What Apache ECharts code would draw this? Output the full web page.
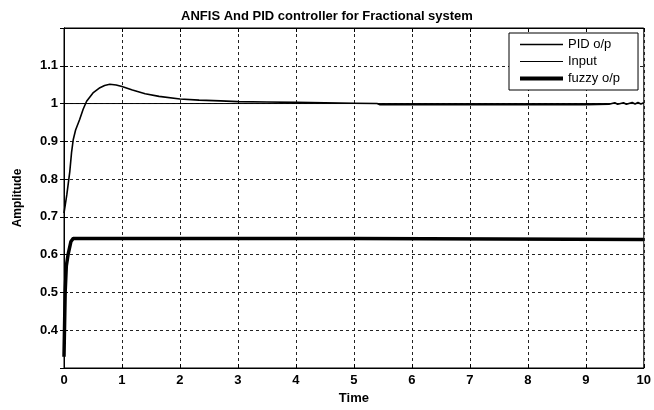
<!DOCTYPE html>
<html>
<head>
<meta charset="utf-8">
<script src="https://cdn.jsdelivr.net/npm/echarts@6/dist/echarts.min.js"></script>
<style>html,body{margin:0;padding:0;background:#fff}#c{width:654px;height:410px}</style>
</head>
<body>
<div id="c"></div>
<script>
var titleText = 'ANFIS And PID controller for Fractional system';
var xTicks = [0,1,2,3,4,5,6,7,8,9,10];
var yTicks = [0.4,0.5,0.6,0.7,0.8,0.9,1,1.1];

var pidT = [0,0.02,0.05,0.1,0.13,0.16,0.2,0.27,0.33,0.39,0.5,0.62,0.7,0.79,0.9,1.0,1.18,1.4,1.64,2.0,2.33,2.7,3.0,3.5,4.0,4.5,5.0,5.4,5.45,6,7,8,9,9.4,9.5,9.55,9.65,9.7,9.8,9.85,9.9,9.95,10];
var pidV = [0.71,0.73,0.76,0.82,0.87,0.905,0.93,0.958,0.985,1.006,1.028,1.042,1.048,1.051,1.049,1.045,1.036,1.026,1.019,1.012,1.009,1.007,1.005,1.004,1.003,1.002,1.001,1.0,0.997,0.997,0.997,0.997,0.997,0.998,1.002,0.998,1.002,0.998,1.003,0.999,1.003,0.999,1.002];

var inputT = [0,10];
var inputV = [1,1];

var fuzzyT = [0,0.02,0.04,0.07,0.12,0.16,5.0,5.01,10];
var fuzzyV = [0.33,0.5,0.57,0.6,0.635,0.643,0.643,0.640,0.640];

function pairs(t,v){ return t.map(function(x,i){ return [x, v[i]]; }); }

var chart = echarts.init(document.getElementById('c'), null, {renderer:'canvas'});
var gridDash = {show:true, lineStyle:{color:'#222', type:[3,3], width:1}};
var tickFont = {fontFamily:'Liberation Sans, Arial, sans-serif', fontWeight:'bold', fontSize:13, color:'#000'};
var noSym = {color:'rgba(0,0,0,0)', borderWidth:0};
chart.setOption({
  animation:false,
  backgroundColor:'#fff',
  title:{text:titleText, left:'center', top:5, textStyle:{fontFamily:'Liberation Sans, Arial, sans-serif', fontWeight:'bold', fontSize:13, color:'#000'}},
  grid:{left:64, right:6, top:28, bottom:37, show:true, borderColor:'#000', borderWidth:1, backgroundColor:'#fff'},
  legend:{
    orient:'vertical', left:509, top:33, padding:[5,18,5,9], itemGap:4, itemWidth:43, itemHeight:14,
    backgroundColor:'#fff', borderColor:'#000', borderWidth:1, borderRadius:0,
    itemStyle:noSym,
    textStyle:{fontFamily:'Liberation Sans, Arial, sans-serif', fontSize:13, color:'#000'},
    data:[
      {name:'PID o/p', lineStyle:{width:1.6, color:'#000'}},
      {name:'Input', lineStyle:{width:1, color:'#000'}},
      {name:'fuzzy o/p', lineStyle:{width:4, color:'#000'}}
    ]
  },
  xAxis:[{
    type:'value', min:0, max:10, interval:1, name:'Time', nameLocation:'middle', nameGap:24,
    nameTextStyle:{fontFamily:'Liberation Sans, Arial, sans-serif', fontWeight:'bold', fontSize:13, color:'#000'},
    axisLine:{show:true, lineStyle:{color:'#000', width:1}},
    axisTick:{show:true, inside:true, length:4, lineStyle:{color:'#000'}},
    axisLabel:Object.assign({margin:6, formatter:function(v){return xTicks.indexOf(v)>=0 ? String(v) : '';}}, tickFont),
    splitLine:gridDash
  },{
    type:'value', min:0, max:10, interval:1, position:'top',
    axisLine:{show:true, lineStyle:{color:'#000'}},
    axisTick:{show:true, inside:true, length:4, lineStyle:{color:'#000'}},
    axisLabel:{show:false}, splitLine:{show:false}
  }],
  yAxis:[{
    type:'value', min:0.3, max:1.2, interval:0.1, name:'Amplitude', nameLocation:'middle', nameGap:40,
    nameTextStyle:{fontFamily:'Liberation Sans, Arial, sans-serif', fontWeight:'bold', fontSize:12, color:'#000'},
    axisLine:{show:true, lineStyle:{color:'#000', width:1}},
    axisTick:{show:true, inside:true, length:4, lineStyle:{color:'#000'}},
    axisLabel:Object.assign({margin:6, showMinLabel:false, showMaxLabel:false,
      formatter:function(v){ var r=Math.round(v*10)/10; return yTicks.indexOf(r)>=0 ? String(r) : ''; }}, tickFont),
    splitLine:gridDash
  },{
    type:'value', min:0.3, max:1.2, interval:0.1, position:'right',
    axisLine:{show:true, lineStyle:{color:'#000'}},
    axisTick:{show:true, inside:true, length:4, lineStyle:{color:'#000'}},
    axisLabel:{show:false}, splitLine:{show:false}
  }],
  series:[
    {name:'PID o/p', type:'line', data:pairs(pidT,pidV), symbol:'none', lineStyle:{color:'#000', width:1.6}, itemStyle:noSym, z:3},
    {name:'Input', type:'line', data:pairs(inputT,inputV), symbol:'none', lineStyle:{color:'#000', width:1}, itemStyle:noSym, z:2},
    {name:'fuzzy o/p', type:'line', data:pairs(fuzzyT,fuzzyV), symbol:'none', lineStyle:{color:'#000', width:3.5}, itemStyle:noSym, z:4}
  ]
});
</script>
</body>
</html>
